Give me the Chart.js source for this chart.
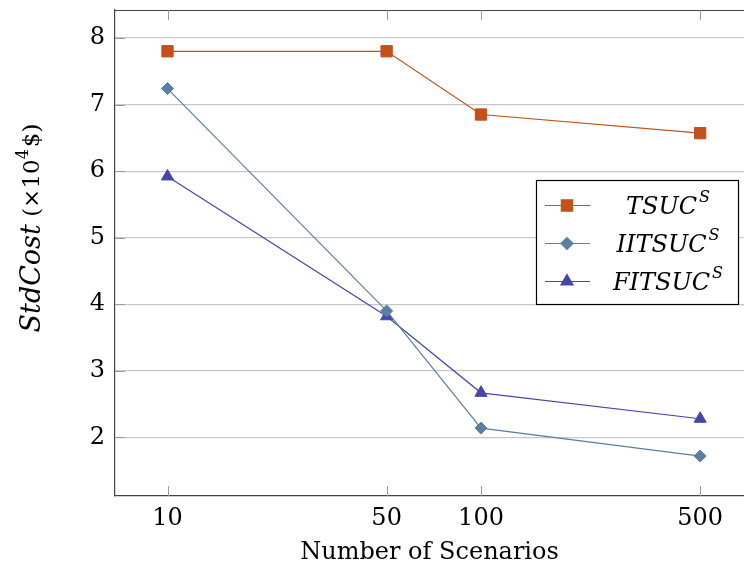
<!DOCTYPE html>
<html>
<head>
<meta charset="utf-8">
<script src="https://cdn.jsdelivr.net/npm/chart.js@4/dist/chart.umd.min.js"></script>
<style>
  html, body { margin: 0; padding: 0; background: #fff; }
  #wrap { width: 744px; height: 571px; }
</style>
</head>
<body>
<div id="wrap"><canvas id="canvas" width="744" height="571"></canvas></div>
<script>
const scenarios = [10, 50, 100, 500];
const tsuc = [7.8, 7.8, 6.85, 6.57];
const iitsuc = [7.24, 3.9, 2.14, 1.72];
const fitsuc = [5.92, 3.82, 2.67, 2.28];
const yTicks = [2, 3, 4, 5, 6, 7, 8];

const serif = "'DejaVu Serif', 'Liberation Serif', serif";

const toPoints = (vals) => scenarios.map((s, i) => ({ x: s, y: vals[i] }));

// small inside tick marks + top frame line, like pgfplots
const frame = {
  id: "frame",
  afterDraw(chart) {
    const { ctx, chartArea: a, scales } = chart;
    ctx.save();
    ctx.strokeStyle = "#444";
    ctx.lineWidth = 1.2;
    ctx.beginPath();
    ctx.moveTo(a.left, a.top + 0.5);
    ctx.lineTo(744, a.top + 0.5);
    ctx.stroke();
    ctx.strokeStyle = "#9a9a9a";
    ctx.lineWidth = 1;
    ctx.beginPath();
    scenarios.forEach((s) => {
      const x = Math.round(scales.x.getPixelForValue(s)) + 0.5;
      ctx.moveTo(x, a.top);
      ctx.lineTo(x, a.top + 10);
      ctx.moveTo(x, a.bottom);
      ctx.lineTo(x, a.bottom - 10);
    });
    yTicks.forEach((v) => {
      const y = Math.round(scales.y.getPixelForValue(v)) + 0.5;
      ctx.moveTo(a.left, y);
      ctx.lineTo(a.left + 10, y);
    });
    ctx.stroke();
    ctx.restore();
  },
};

// y axis title with italic StdCost
const yTitle = {
  id: "yTitle",
  afterDraw(chart) {
    const { ctx } = chart;
    ctx.save();
    ctx.translate(33, 228);
    ctx.rotate(-Math.PI / 2);
    ctx.fillStyle = "#000";
    ctx.textBaseline = "middle";
    const p1 = "StdCost";
    const p2 = " (×10";
    const p3 = "4";
    const p4 = "$)";
    ctx.font = `italic 27px ${serif}`;
    const w1 = ctx.measureText(p1).width;
    ctx.font = `23px ${serif}`;
    const w2 = ctx.measureText(p2).width;
    const w4 = ctx.measureText(p4).width;
    ctx.font = `16px ${serif}`;
    const w3 = ctx.measureText(p3).width;
    let x = -(w1 + w2 + w3 + w4 + 2) / 2;
    ctx.font = `italic 27px ${serif}`;
    ctx.fillText(p1, x, 0);
    x += w1;
    ctx.font = `23px ${serif}`;
    ctx.fillText(p2, x, 0);
    x += w2;
    ctx.font = `16px ${serif}`;
    ctx.fillText(p3, x, -9);
    x += w3 + 2;
    ctx.font = `23px ${serif}`;
    ctx.fillText(p4, x, 0);
    ctx.restore();
  },
};

// legend box inside the plot
const legendBox = {
  id: "legendBox",
  afterDraw(chart) {
    const { ctx } = chart;
    const bx = 536.5, by = 180.5, bw = 202, bh = 124;
    ctx.save();
    ctx.fillStyle = "#fff";
    ctx.fillRect(bx, by, bw, bh);
    ctx.strokeStyle = "#000";
    ctx.lineWidth = 1.2;
    ctx.strokeRect(bx, by, bw, bh);
    const names = ["TSUC", "IITSUC", "FITSUC"];
    const rows = [205, 243, 281];
    chart.data.datasets.forEach((ds, i) => {
      const y = rows[i];
      ctx.strokeStyle = ds.borderColor;
      ctx.lineWidth = 1.2;
      ctx.beginPath();
      ctx.moveTo(545, y + 0.5);
      ctx.lineTo(590, y + 0.5);
      ctx.stroke();
      ctx.fillStyle = ds.pointBackgroundColor;
      ctx.strokeStyle = ds.pointBorderColor;
      Chart.helpers.drawPoint(ctx, {
        pointStyle: ds.pointStyle,
        radius: ds.pointRadius,
        rotation: 0,
        borderWidth: 1,
      }, 567, y + 0.5);
      ctx.fillStyle = "#000";
      ctx.textBaseline = "alphabetic";
      ctx.font = `italic 24px ${serif}`;
      const tw = ctx.measureText(names[i]).width;
      ctx.font = `italic 16px ${serif}`;
      const sw = ctx.measureText("S").width;
      const tx = 598 + (138 - tw - sw) / 2;
      ctx.font = `italic 24px ${serif}`;
      ctx.fillText(names[i], tx, y + 9);
      ctx.font = `italic 16px ${serif}`;
      ctx.fillText("S", tx + tw + 2, y - 3);
    });
    ctx.restore();
  },
};

const datasets = [
  { label: "TSUC", data: toPoints(tsuc), color: "#c4501a", style: "rect", r: 8 },
  { label: "IITSUC", data: toPoints(iitsuc), color: "#5a7fa0", style: "rectRot", r: 6 },
  { label: "FITSUC", data: toPoints(fitsuc), color: "#4646a8", style: "triangle", r: 7 },
].map((d) => ({
  label: d.label,
  data: d.data,
  borderColor: d.color,
  backgroundColor: d.color,
  pointBackgroundColor: d.color,
  pointBorderColor: d.color,
  pointStyle: d.style,
  pointRadius: d.r,
  pointHoverRadius: d.r,
  pointBorderWidth: 1,
  borderWidth: 1.2,
  tension: 0,
}));

new Chart(document.querySelector("#canvas").getContext("2d"), {
  type: "line",
  data: { datasets },
  plugins: [frame, yTitle, legendBox],
  options: {
    responsive: false,
    animation: false,
    layout: { autoPadding: false, padding: { top: 10, right: 0, left: 0, bottom: 0 } },
    plugins: { legend: { display: false }, tooltip: { enabled: false } },
    scales: {
      x: {
        type: "logarithmic",
        min: 6.8,
        max: 690,
        afterBuildTicks: (s) => { s.ticks = scenarios.map((v) => ({ value: v })); },
        afterFit: (s) => {
          s.height = 75;
          s.paddingLeft = 0;
          s.paddingRight = 0;
        },
        ticks: {
          color: "#000",
          font: { family: serif, size: 24 },
          padding: 8,
          maxRotation: 0,
          callback: (v) => String(v),
        },
        grid: { display: false, drawTicks: false },
        border: { display: true, color: "#444", width: 1.2 },
        title: {
          display: true,
          text: "Number of Scenarios",
          color: "#000",
          font: { family: serif, size: 24 },
          padding: { top: 0, bottom: 4 },
        },
      },
      y: {
        min: 1.12,
        max: 8.42,
        afterBuildTicks: (s) => { s.ticks = yTicks.map((v) => ({ value: v })); },
        afterFit: (s) => {
          s.width = 115;
          s.paddingTop = 0;
          s.paddingBottom = 0;
        },
        ticks: {
          color: "#000",
          font: { family: serif, size: 24 },
          padding: 10,
        },
        grid: { color: "#c8c8c8", lineWidth: 1.2, drawTicks: false },
        border: { display: true, color: "#444", width: 1.2 },
      },
    },
  },
});
</script>
</body>
</html>
